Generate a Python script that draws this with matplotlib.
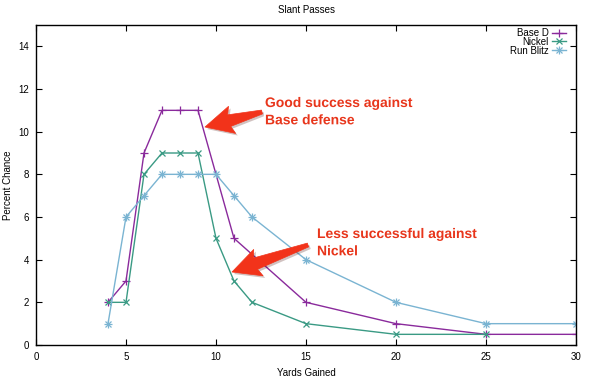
import matplotlib
matplotlib.use("Agg")
import matplotlib.pyplot as plt
import matplotlib.patheffects as pe
from matplotlib.patches import Polygon
from matplotlib.lines import Line2D
import numpy as np

plt.rcParams['font.family'] = ['Liberation Sans', 'DejaVu Sans']

title = "Slant Passes"
x_label = "Yards Gained"
y_label = "Percent Chance"

base_x = [4, 5, 6, 7, 8, 9, 11, 15, 20, 25, 30]
base_y = [2, 3, 9, 11, 11, 11, 5, 2, 1, 0.5, 0.5]
nickel_x = [4, 5, 6, 7, 8, 9, 10, 11, 12, 15, 20, 25]
nickel_y = [2, 2, 8, 9, 9, 9, 5, 3, 2, 1, 0.5, 0.5]
blitz_x = [4, 5, 6, 7, 8, 9, 10, 11, 12, 15, 20, 25, 30]
blitz_y = [1, 6, 7, 8, 8, 8, 8, 7, 6, 4, 2, 1, 1]

xticks = [0, 5, 10, 15, 20, 25, 30]
yticks = [0, 2, 4, 6, 8, 10, 12, 14]

c_base, c_nickel, c_blitz = '#8a2a9c', '#3a9a84', '#7ab4d2'

W, H = 593, 380
fig = plt.figure(figsize=(W / 100, H / 100), dpi=100)
L, R, T, B = 36, 576, 25, 345
ax = fig.add_axes([L / W, (H - B) / H, (R - L) / W, (B - T) / H])

ax.plot(base_x, base_y, color=c_base, lw=1.0, marker='+', ms=6, mew=0.9)
ax.plot(nickel_x, nickel_y, color=c_nickel, lw=1.0, marker='x', ms=4.5, mew=0.9)
ax.plot(blitz_x, blitz_y, color=c_blitz, lw=1.0, marker='+', ms=6, mew=0.9)
ax.plot(blitz_x, blitz_y, color=c_blitz, lw=0, marker='x', ms=4.5, mew=0.9)

ax.set_xlim(0, 30)
ax.set_ylim(0, 15)
ax.set_xticks(xticks)
ax.set_yticks(yticks)
ax.tick_params(direction='in', top=True, right=True, labelsize=7, length=4, width=0.8, pad=5)
for s in ax.spines.values():
    s.set_linewidth(1.0)

ax.set_title(title, fontsize=7, pad=9)
ax.set_xlabel(x_label, fontsize=7, labelpad=4)
ax.set_ylabel(y_label, fontsize=7, labelpad=4)

handles = [
    Line2D([], [], color=c_base, lw=1.0, marker='+', ms=6, mew=0.9),
    Line2D([], [], color=c_nickel, lw=1.0, marker='x', ms=4.5, mew=0.9),
    (Line2D([], [], color=c_blitz, lw=1.0, marker='+', ms=6, mew=0.9),
     Line2D([], [], color=c_blitz, lw=0, marker='x', ms=4.5, mew=0.9)),
]
leg = ax.legend(handles, ['Base D', 'Nickel', 'Run Blitz'], loc='upper right',
                bbox_to_anchor=(1 - 10 / 540, 1 - 3 / 320),
                fontsize=7, frameon=False, markerfirst=False, handlelength=1.45,
                borderaxespad=0, borderpad=0, labelspacing=-0.12, handletextpad=0.3)
for t in leg.get_texts():
    t.set_ha('right')
leg._legend_box.align = 'right'

def red_arrow(tail, tip, head_len=25, head_w=28, shaft_tail=4, shaft_head=12):
    tail = np.array(tail, float)
    tip = np.array(tip, float)
    d = tip - tail
    u = d / np.linalg.norm(d)
    p = np.array([-u[1], u[0]])
    base = tip - u * head_len
    pts = [tail + p * shaft_tail / 2,
           base + p * shaft_head / 2,
           base + p * head_w / 2 - u * 3,
           tip,
           base - p * head_w / 2 - u * 3,
           base - p * shaft_head / 2,
           tail - p * shaft_tail / 2]
    pts = [(q[0] / W, 1 - q[1] / H) for q in pts]
    poly = Polygon(pts, closed=True, transform=fig.transFigure, facecolor='#f2331a',
                   edgecolor='#f2331a', lw=0.5, zorder=10, joinstyle='round',
                   path_effects=[pe.SimplePatchShadow(offset=(1.5, -1.5), alpha=0.25), pe.Normal()])
    fig.add_artist(poly)

red_arrow((262, 112), (205, 127))
red_arrow((308, 245), (232, 272))

txt_kw = dict(transform=fig.transFigure, fontsize=10, fontweight='bold', color='#e8361c',
              ha='left', va='top', linespacing=1.3, zorder=11,
              path_effects=[pe.withStroke(linewidth=3, foreground='white')])
fig.text(265 / W, 1 - 96 / H, "Good success against\nBase defense", **txt_kw)
fig.text(317 / W, 1 - 227 / H, "Less successful against\nNickel", **txt_kw)

fig.savefig('out.png', dpi=100)
